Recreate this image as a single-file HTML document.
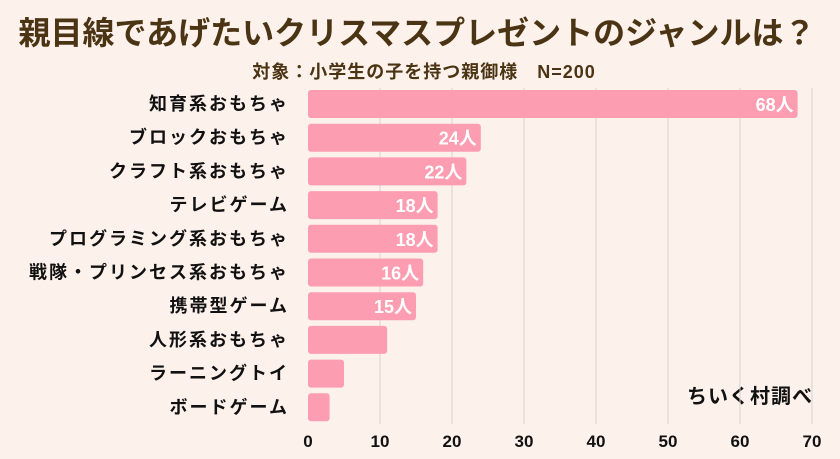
<!DOCTYPE html>
<html><head><meta charset="utf-8"><style>
html,body{margin:0;padding:0;background:#fdf1ec;}
svg{display:block;font-family:"Liberation Sans","Noto Sans CJK JP",sans-serif;}
</style></head><body>
<svg id="chart" width="840" height="459" viewBox="0 0 840 459" xmlns="http://www.w3.org/2000/svg">
<rect width="840" height="459" fill="#fdf1ec"/>
<text x="417" y="44" text-anchor="middle" font-size="32" font-weight="bold" fill="#4b3413">親目線であげたいクリスマスプレゼントのジャンルは？</text>
<text x="424" y="78" text-anchor="middle" font-size="18" font-weight="bold" letter-spacing="1" fill="#4b3413">対象：小学生の子を持つ親御様　N=200</text>
<text x="750" y="403" text-anchor="middle" font-size="20" font-weight="bold" letter-spacing="1" fill="#111">ちいく村調べ</text>
<g id="grid"></g><g id="bars"></g><g id="labels"></g><g id="ticks"></g>
</svg>
<script>
const categories=["知育系おもちゃ","ブロックおもちゃ","クラフト系おもちゃ","テレビゲーム","プログラミング系おもちゃ","戦隊・プリンセス系おもちゃ","携帯型ゲーム","人形系おもちゃ","ラーニングトイ","ボードゲーム"];
const values=[68,24,22,18,18,16,15,11,5,3];
const valueLabels=["68人","24人","22人","18人","18人","16人","15人","","",""];
const tickValues=[0,10,20,30,40,50,60,70];
const NS="http://www.w3.org/2000/svg";
const x0=308,xScale=7.2,top0=90,rowStep=33.7,barH=28;
function xPos(v){return x0+v*xScale;}
function yPos(i){return top0+i*rowStep;}
function mk(tag,attrs,parent,txt){const e=document.createElementNS(NS,tag);for(const k in attrs)e.setAttribute(k,attrs[k]);if(txt!==undefined)e.textContent=txt;document.getElementById(parent).appendChild(e);return e;}
tickValues.forEach(t=>{
  if(t>0){const g=mk('line',{x1:xPos(t),x2:xPos(t),y1:88,y2:424,stroke:'#dcd2cd','stroke-width':1},'grid');
  
  }
  const tl=mk('text',{x:xPos(t),y:447,'text-anchor':'middle','font-size':17,'font-weight':'bold',fill:'#111'},'ticks',String(t));
  
  
});
categories.forEach((c,i)=>{
  const y=yPos(i);
  const b=mk('rect',{x:x0,y:y,width:xPos(values[i])-x0,height:barH,rx:3,fill:'#fc9db1'},'bars');
  
  
  const l=mk('text',{x:289,y:y+barH/2+6,'text-anchor':'end','font-size':18,'letter-spacing':2,'font-weight':'bold',fill:'#111'},'labels',c);
  
  
  if(valueLabels[i]){const v=mk('text',{x:xPos(values[i])-4,y:y+barH/2+7,'text-anchor':'end','font-size':18,'font-weight':'bold',fill:'#fff'},'labels',valueLabels[i]);
  
  }
});
</script>
</body></html>
